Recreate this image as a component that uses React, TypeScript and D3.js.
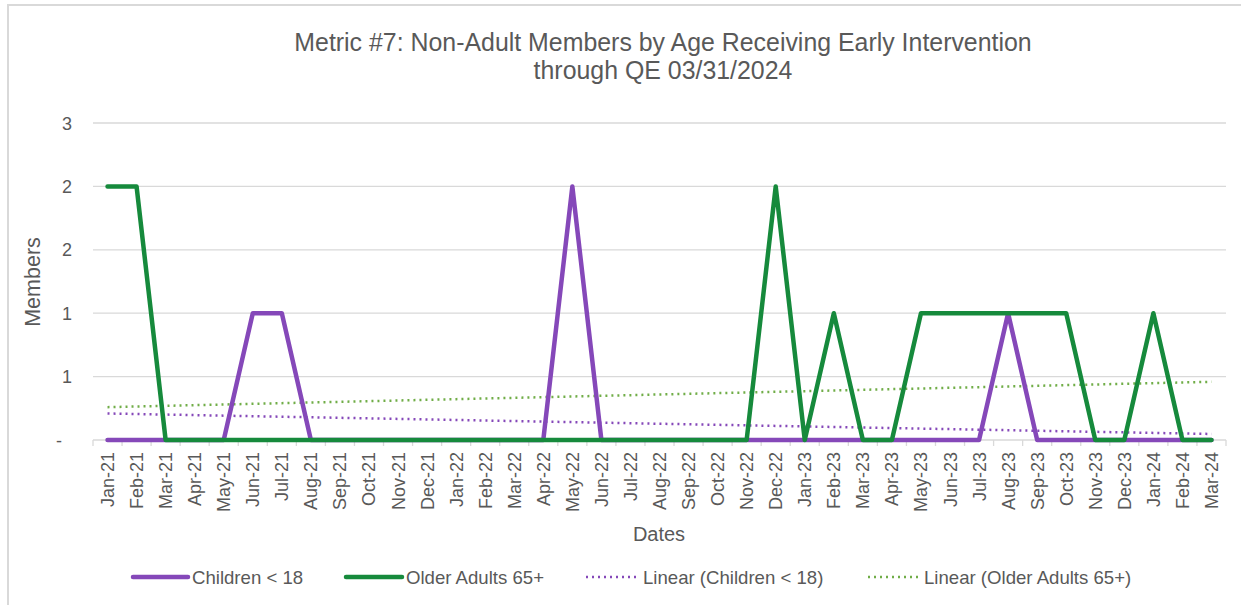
import React from "react";
import * as d3 from "d3";

const months = [
  "Jan-21","Feb-21","Mar-21","Apr-21","May-21","Jun-21","Jul-21","Aug-21","Sep-21","Oct-21","Nov-21","Dec-21",
  "Jan-22","Feb-22","Mar-22","Apr-22","May-22","Jun-22","Jul-22","Aug-22","Sep-22","Oct-22","Nov-22","Dec-22",
  "Jan-23","Feb-23","Mar-23","Apr-23","May-23","Jun-23","Jul-23","Aug-23","Sep-23","Oct-23","Nov-23","Dec-23",
  "Jan-24","Feb-24","Mar-24",
];
const children = [
  0,0,0,0,0,1,1,0,0,0,0,0,
  0,0,0,0,2,0,0,0,0,0,0,0,
  0,0,0,0,0,0,0,1,0,0,0,0,
  0,0,0,
];
const olderAdults = [
  2,2,0,0,0,0,0,0,0,0,0,0,
  0,0,0,0,0,0,0,0,0,0,0,2,
  0,1,0,0,1,1,1,1,1,1,0,0,
  1,0,0,
];
const yTicks = [0, 0.5, 1, 1.5, 2, 2.5];
const title1 = "Metric #7: Non-Adult Members by Age Receiving Early Intervention";
const title2 = "through QE 03/31/2024";
const legendItems = [
  { label: "Children < 18", key: "c", dotted: false },
  { label: "Older Adults 65+", key: "o", dotted: false },
  { label: "Linear (Children < 18)", key: "c", dotted: true },
  { label: "Linear (Older Adults 65+)", key: "o", dotted: true },
];

const PURPLE = "#8548B9";
const GREEN = "#168A3C";
const GREEN_TREND = "#70AD47";
const TEXT = "#595959";
const GRID = "#D9D9D9";
const FONT = "'Liberation Sans', Arial, sans-serif";

function linReg(vals: number[]) {
  const xs = vals.map((_, i) => i);
  const mx = d3.mean(xs)!;
  const my = d3.mean(vals)!;
  let num = 0, den = 0;
  xs.forEach((x, i) => { num += (x - mx) * (vals[i] - my); den += (x - mx) ** 2; });
  const b = num / den;
  const a = my - b * mx;
  return vals.map((_, i) => a + b * i);
}

function fmtY(v: number) {
  if (v === 0) return "-";
  return String(Math.round(v + 1e-9));
}

export default function App() {
  const W = 1241, H = 605;
  const left = 93, right = 1226, top = 123, bottom = 440;
  const x = d3.scaleBand<string>().domain(months).range([left, right]).paddingInner(0).paddingOuter(0);
  const y = d3.scaleLinear().domain([0, 2.5]).range([bottom, top]);
  const cx = (i: number) => x(months[i])! + x.bandwidth() / 2;
  const line = d3.line<number>().x((_, i) => cx(i)).y((d) => y(d));
  const trendC = linReg(children);
  const trendO = linReg(olderAdults);

  const legendX = [133, 346, 586, 868];
  const legendLen = [55, 56, 53, 52];

  return (
    <svg width={W} height={H} style={{ position: "absolute", left: 0, top: 0, background: "#fff" }} fontFamily={FONT}>
      <rect x={8} y={5} width={W + 20} height={H + 20} fill="#fff" stroke={GRID} strokeWidth={2} />
      <g fill={TEXT} textAnchor="middle" fontSize={24.9}>
        <text x={663} y={51}>{title1}</text>
        <text x={663} y={79}>{title2}</text>
      </g>
      {yTicks.map((t) => (
        <g key={t}>
          {t > 0 && <line x1={left} x2={right} y1={y(t)} y2={y(t)} stroke={GRID} strokeWidth={1.3} />}
          <text x={t === 0 ? 62 : 72} y={y(t) + 6.5} textAnchor="end" fontSize={18} fill={TEXT}>{fmtY(t)}</text>
        </g>
      ))}
      <line x1={left} x2={right} y1={bottom} y2={bottom} stroke={GRID} strokeWidth={1.3} />
      {months.map((m) => (
        <line key={"t" + m} x1={x(m)!} x2={x(m)!} y1={bottom} y2={bottom + 6} stroke={GRID} strokeWidth={1.3} />
      ))}
      <line x1={right} x2={right} y1={bottom} y2={bottom + 6} stroke={GRID} strokeWidth={1.3} />
      {months.map((m, i) => (
        <text key={m} transform={`translate(${cx(i) + 6.5},${bottom + 12}) rotate(-90)`} textAnchor="end" fontSize={18} fill={TEXT}>{m}</text>
      ))}
      <path d={line(trendC)!} fill="none" stroke={PURPLE} strokeWidth={2.5} strokeDasharray="2 4" />
      <path d={line(trendO)!} fill="none" stroke={GREEN_TREND} strokeWidth={2.5} strokeDasharray="2 4" />
      <path d={line(children)!} fill="none" stroke={PURPLE} strokeWidth={4.5} strokeLinejoin="round" strokeLinecap="round" />
      <path d={line(olderAdults)!} fill="none" stroke={GREEN} strokeWidth={4.5} strokeLinejoin="round" strokeLinecap="round" />
      <text transform={`translate(40,282) rotate(-90)`} textAnchor="middle" fontSize={21.5} fill={TEXT}>Members</text>
      <text x={659} y={541} textAnchor="middle" fontSize={20} fill={TEXT}>Dates</text>
      {legendItems.map((it, i) => {
        const col = it.key === "c" ? PURPLE : it.dotted ? GREEN_TREND : GREEN;
        return (
          <g key={it.label}>
            <line x1={legendX[i]} x2={legendX[i] + legendLen[i]} y1={577} y2={577} stroke={col}
              strokeWidth={it.dotted ? 2.5 : 4.5} strokeDasharray={it.dotted ? "2 4" : undefined} strokeLinecap={it.dotted ? "butt" : "round"} />
            <text x={legendX[i] + legendLen[i] + 4} y={583.5} fontSize={18.6} fill={TEXT}>{it.label}</text>
          </g>
        );
      })}
    </svg>
  );
}
